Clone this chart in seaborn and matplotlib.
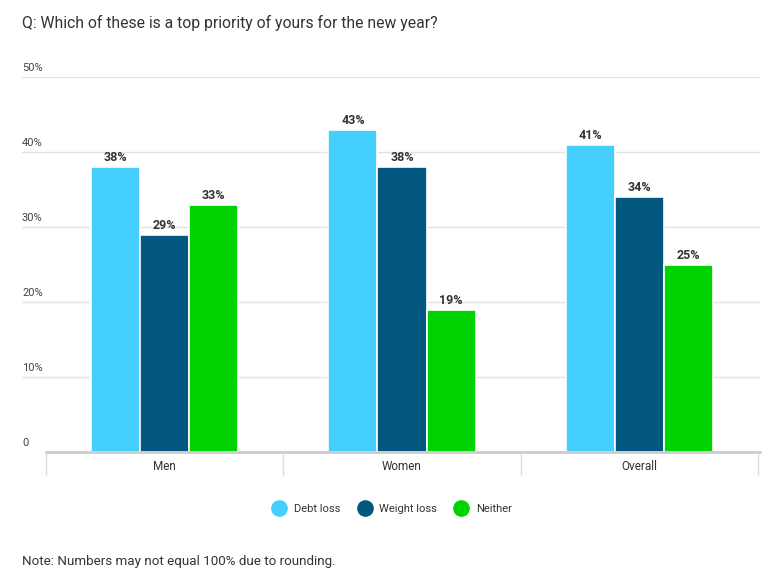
import matplotlib
matplotlib.use("Agg")
import matplotlib.pyplot as plt
import matplotlib.transforms as mtransforms
from matplotlib.lines import Line2D
import seaborn as sns
import pandas as pd

groups = ["Men", "Women", "Overall"]
answers = ["Debt loss", "Weight loss", "Neither"]
debt_loss = [38, 43, 41]
weight_loss = [29, 38, 34]
neither = [33, 19, 25]
colors = ["#45CFFF", "#03587F", "#00D300"]
yticks = [0, 10, 20, 30, 40, 50]
ytick_labels = ["0", "10%", "20%", "30%", "40%", "50%"]

rows = []
for ans, vals in zip(answers, [debt_loss, weight_loss, neither]):
    for g, v in zip(groups, vals):
        rows.append({"group": g, "answer": ans, "value": v})
df = pd.DataFrame(rows)

sns.set_theme(style="white")
plt.rcParams["font.family"] = ["Roboto", "DejaVu Sans"]

fig = plt.figure(figsize=(7.8, 5.8), dpi=100)
ax = fig.add_axes([22 / 780, 1 - 452 / 580, (760 - 22) / 780, (452 - 77) / 580])

sns.barplot(data=df, x="group", y="value", hue="answer", hue_order=answers,
            order=groups, palette=colors, width=0.62, edgecolor="white",
            linewidth=1.2, saturation=1, legend=False, ax=ax)

# axis limits: category -0.5 sits at pixel 46, axes starts at 22
unit = (758 - 46) / 3
ax.set_xlim(-0.5 - 24 / unit, 2.5 + 2 / unit)
ax.set_ylim(0, 50)

for c in ax.containers:
    ax.bar_label(c, labels=[f"{int(v)}%" for v in c.datavalues], padding=2,
                 fontsize=9, fontweight="bold", color="#333333")

# gridlines and y labels drawn above lines
for t, lab in zip(yticks, ytick_labels):
    if t > 0:
        ax.axhline(t, color="#e3e3e3", linewidth=1, zorder=0)
    ax.text(0, t + 0.5, lab, transform=mtransforms.blended_transform_factory(ax.transAxes, ax.transData),
            fontsize=8, color="#444444", ha="left", va="bottom")

# baseline and category separators
trans = mtransforms.blended_transform_factory(ax.transData, ax.transAxes)
ax.plot([-0.5, 2.5 + 2 / unit], [0, 0], transform=trans, color="#cccccc", linewidth=2, clip_on=False, zorder=3)
for xs in [-0.5, 0.5, 1.5, 2.5]:
    ax.plot([xs, xs], [0, -0.06], transform=trans, color="#dddddd", linewidth=1, clip_on=False)

ax.set_yticks([])
ax.set_xticks(range(len(groups)))
ax.set_xticklabels(groups, fontsize=8.5, color="#333333")
ax.tick_params(axis="x", length=0, pad=6)
ax.set_xlabel("")
ax.set_ylabel("")
sns.despine(ax=ax, left=True, bottom=True)

fig.text(22 / 780, 1 - 23 / 580, "Q: Which of these is a top priority of yours for the new year?",
         fontsize=11.3, color="#333333", ha="left", va="center")

handles = [Line2D([0], [0], marker="o", linestyle="", markersize=11,
                  markerfacecolor=c, markeredgecolor=c) for c in colors]
fig.legend(handles, answers, loc="center", bbox_to_anchor=(390 / 780, 1 - 509 / 580),
           ncol=3, frameon=False, fontsize=8, handletextpad=0.3, columnspacing=1.2,
           labelcolor="#333333")

fig.text(22 / 780, 1 - 561 / 580, "Note: Numbers may not equal 100% due to rounding.",
         fontsize=9.6, color="#333333", ha="left", va="center")

fig.savefig("out.png", dpi=100)
